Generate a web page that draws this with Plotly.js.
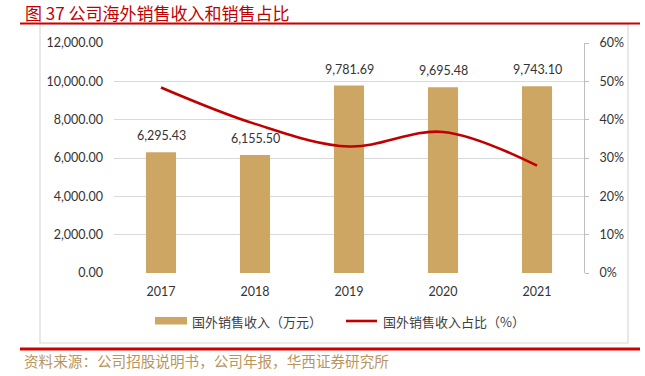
<!DOCTYPE html>
<html>
<head>
<meta charset="utf-8">
<script src="https://cdn.plot.ly/plotly-3.0.1.min.js"></script>
<style>
html,body{margin:0;padding:0;background:#fff;}
#chart{width:645px;height:376px;}
</style>
</head>
<body>
<div id="chart"></div>
<script>
const years = ['2017', '2018', '2019', '2020', '2021'];
const revenue = [6295.43, 6155.50, 9781.69, 9695.48, 9743.10];
const share = [0.484, 0.389, 0.330, 0.368, 0.280];
const revenueLabels = ['6,295.43', '6,155.50', '9,781.69', '9,695.48', '9,743.10'];
const titleText = '图 37 公司海外销售收入和销售占比';
const sourceText = '资料来源：公司招股说明书，公司年报，华西证券研究所';
const barName = '国外销售收入（万元）';
const lineName = '国外销售收入占比（%）';

const W = 645, H = 376;
const L = 114, R = 61, T = 43, B = 103;
const pw = W - L - R, ph = H - T - B;
const px = x => (x - L) / pw;
const py = y => (H - B - y) / ph;

const numFont = 'Lato, "Noto Sans CJK SC", sans-serif';
const cjkFont = '"Noto Sans CJK SC", sans-serif';
const barColor = '#CDA664';
const lineColor = '#C00000';

const traces = [
  {
    type: 'bar', x: years, y: revenue, name: barName,
    marker: {color: barColor}, showlegend: false, hoverinfo: 'skip'
  },
  {
    type: 'scatter', mode: 'lines', x: years, y: share, yaxis: 'y2', name: lineName,
    line: {color: lineColor, width: 2.6, shape: 'spline', smoothing: 1},
    showlegend: false, hoverinfo: 'skip'
  }
];

const annotations = years.map((yr, i) => ({
  x: i, y: revenue[i], xref: 'x', yref: 'y', text: revenueLabels[i],
  showarrow: false, yanchor: 'bottom', yshift: 7,
  font: {family: numFont, size: 12.5, color: '#333333'}
}));

annotations.push({
  xref: 'paper', yref: 'paper', x: px(22), y: py(360), xanchor: 'left', yanchor: 'middle',
  text: sourceText, showarrow: false,
  font: {family: cjkFont, size: 14.6, color: '#B9955E'}
});
annotations.push({
  xref: 'paper', yref: 'paper', x: px(190), y: py(321), xanchor: 'left', yanchor: 'middle',
  text: barName, showarrow: false,
  font: {family: cjkFont, size: 13, color: '#404040'}
});
annotations.push({
  xref: 'paper', yref: 'paper', x: px(381), y: py(321), xanchor: 'left', yanchor: 'middle',
  text: lineName, showarrow: false,
  font: {family: cjkFont, size: 13, color: '#404040'}
});

const shapes = [
  {type: 'rect', xref: 'paper', yref: 'paper', x0: px(40), x1: px(628), y0: py(343), y1: py(24),
   line: {color: '#D9D9D9', width: 1.2}, fillcolor: 'rgba(0,0,0,0)', layer: 'below'},
  {type: 'line', xref: 'paper', yref: 'paper', x0: px(20), x1: px(640), y0: py(23.5), y1: py(23.5),
   line: {color: '#D00000', width: 2}},
  {type: 'line', xref: 'paper', yref: 'paper', x0: px(20), x1: px(640), y0: py(349), y1: py(349),
   line: {color: '#D00000', width: 3}},
  {type: 'rect', xref: 'paper', yref: 'paper', x0: px(155), x1: px(187), y0: py(324.5), y1: py(317),
   line: {width: 0}, fillcolor: barColor},
  {type: 'line', xref: 'paper', yref: 'paper', x0: px(346), x1: px(377), y0: py(321), y1: py(321),
   line: {color: lineColor, width: 2.6}}
];

const layout = {
  width: W, height: H,
  margin: {l: L, r: R, t: T, b: B, pad: 0},
  paper_bgcolor: '#fff', plot_bgcolor: '#fff',
  title: {
    text: titleText, xref: 'container', yref: 'container',
    x: 25 / W, xanchor: 'left', y: 1 - 14 / H, yanchor: 'middle',
    font: {family: cjkFont, size: 17, color: '#C00000'}
  },
  bargap: 0.68,
  showlegend: false,
  xaxis: {
    type: 'category', range: [-0.5, 4.5],
    showgrid: false, zeroline: false, showline: false, ticks: '', ticklabelstandoff: 9,
    tickfont: {family: numFont, size: 12.5, color: '#333333'},
    fixedrange: true
  },
  yaxis: {
    range: [0, 12000], dtick: 2000, tickformat: ',.2f',
    showgrid: true, gridcolor: '#D9D9D9', gridwidth: 1,
    zeroline: false, showline: false, ticks: '', ticklabelstandoff: 10,
    tickfont: {family: numFont, size: 12.5, color: '#333333'},
    fixedrange: true
  },
  yaxis2: {
    overlaying: 'y', side: 'right', range: [0, 0.6], dtick: 0.1, tickformat: '.0%',
    showgrid: false, zeroline: false, showline: true, linecolor: '#BFBFBF', linewidth: 1,
    ticks: 'outside', ticklen: 4, tickcolor: '#BFBFBF', ticklabelstandoff: 8,
    tickfont: {family: numFont, size: 12.5, color: '#333333'},
    fixedrange: true
  },
  annotations: annotations,
  shapes: shapes
};

Plotly.newPlot('chart', traces, layout, {displayModeBar: false, staticPlot: true});
</script>
</body>
</html>
